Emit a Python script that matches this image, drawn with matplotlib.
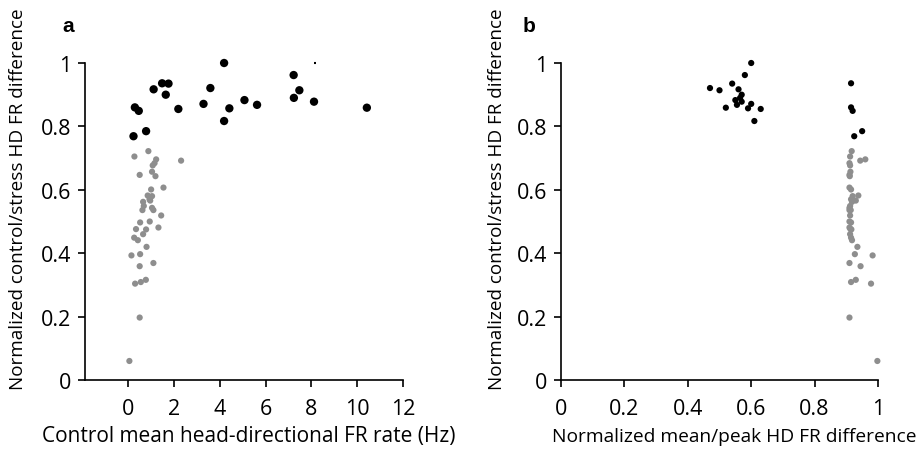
import matplotlib
matplotlib.use("Agg")
import matplotlib.pyplot as plt

plt.rcParams['font.family'] = ['Open Sans', 'DejaVu Sans']

# ---- data ----
# stable (black) cells: panel a x, shared y, panel b x
black_rate = [4.18, 7.22, 7.23, 1.10, 1.47, 1.75, 1.63, 3.58, 0.28, 0.45, 2.18,
              3.28, 4.41, 5.07, 5.62, 4.18, 0.77, 0.22, 7.47, 8.11, 10.42]
black_norm = [1.000, 0.962, 0.890, 0.917, 0.936, 0.935, 0.900, 0.921, 0.860, 0.849, 0.855,
              0.871, 0.857, 0.883, 0.868, 0.817, 0.785, 0.769, 0.914, 0.878, 0.859]
black_peak = [0.60, 0.58, 0.565, 0.56, 0.915, 0.54, 0.57, 0.47, 0.915, 0.92, 0.63,
              0.60, 0.59, 0.55, 0.555, 0.61, 0.95, 0.925, 0.50, 0.57, 0.52]

# unstable (gray) cells
gray_rate = [0.87, 0.26, 1.21, 2.30, 1.14, 1.06, 0.49, 1.03, 1.18, 1.53, 0.99, 0.84, 1.03,
             0.92, 0.95, 0.64, 0.67, 1.03, 0.61, 1.09, 1.43, 0.51, 0.93, 0.33, 0.77, 1.31,
             0.64, 0.25, 0.41, 0.79, 0.13, 0.51, 0.49, 1.09, 0.29, 0.54, 0.76, 0.49, 0.04]
gray_norm = [0.722, 0.705, 0.696, 0.692, 0.684, 0.677, 0.647, 0.657, 0.643, 0.607, 0.601,
             0.582, 0.580, 0.570, 0.566, 0.562, 0.549, 0.543, 0.536, 0.536, 0.519, 0.497,
             0.500, 0.476, 0.475, 0.481, 0.460, 0.449, 0.441, 0.420, 0.393, 0.397, 0.359,
             0.369, 0.304, 0.309, 0.316, 0.197, 0.060]
gray_peak = [0.917, 0.912, 0.960, 0.944, 0.910, 0.912, 0.910, 0.913, 0.911, 0.910, 0.915,
             0.938, 0.920, 0.915, 0.930, 0.918, 0.912, 0.910, 0.914, 0.910, 0.912, 0.915,
             0.910, 0.913, 0.916, 0.910, 0.912, 0.915, 0.918, 0.935, 0.983, 0.927, 0.945,
             0.910, 0.978, 0.915, 0.930, 0.910, 0.998]

stray_x = [8.17]
stray_y = [1.0]

y_ticks = [0, 0.2, 0.4, 0.6, 0.8, 1]
y_ticklabels = ["0", "0.2", "0.4", "0.6", "0.8", "1"]
xa_ticks = [0, 2, 4, 6, 8, 10, 12]
xb_ticks = [0, 0.2, 0.4, 0.6, 0.8, 1]
xb_ticklabels = ["0", "0.2", "0.4", "0.6", "0.8", "1"]

ylabel = "Normalized control/stress HD FR difference"
xa_label = "Control mean head-directional FR rate (Hz)"
xb_label = "Normalized mean/peak HD FR difference"

GRAY = "#8e8e8e"
TICK_FS = 15.5
XLAB_A_FS = 15
XLAB_B_FS = 13.8
YLAB_FS = 13.6

fig = plt.figure(figsize=(9.16, 4.52), dpi=100)
ax_a = fig.add_axes([85/916, 71/452, 318/916, 317/452])
ax_b = fig.add_axes([561/916, 71/452, 317/916, 317/452])

ax_a.scatter(gray_rate, gray_norm, s=20, color=GRAY, edgecolors='none', clip_on=False, zorder=3)
ax_a.scatter(black_rate, black_norm, s=36, color='black', edgecolors='none', clip_on=False, zorder=4)
ax_a.scatter(stray_x, stray_y, s=3, marker='_', color='black', clip_on=False, zorder=4)

ax_b.scatter(gray_peak, gray_norm, s=20, color=GRAY, edgecolors='none', clip_on=False, zorder=3)
ax_b.scatter(black_peak, black_norm, s=20, color='black', edgecolors='none', clip_on=False, zorder=4)

for ax in (ax_a, ax_b):
    ax.set_ylim(0, 1)
    ax.set_yticks(y_ticks)
    ax.set_yticklabels(y_ticklabels)
    ax.spines['top'].set_visible(False)
    ax.spines['right'].set_visible(False)
    ax.spines['left'].set_linewidth(1.2)
    ax.spines['bottom'].set_linewidth(1.2)
    ax.tick_params(direction='out', length=5, width=1.2, labelsize=TICK_FS, pad=5)
    ax.tick_params(axis='x', pad=8)
    ax.set_ylabel(ylabel, fontsize=YLAB_FS)

# y-label positions (axes coords) to match reference placement
ax_a.yaxis.set_label_coords(-67/318, (381 - 199) / 317)
ax_b.yaxis.set_label_coords(-64/317, (381 - 199) / 317)

ax_a.set_xlim(-1.9, 12)
ax_a.set_xticks(xa_ticks)
ax_a.set_xlabel(xa_label, fontsize=XLAB_A_FS)
ax_a.xaxis.set_label_coords((249 - 85) / 318, -(437 - 381) / 317)

ax_b.set_xlim(0, 1)
ax_b.set_xticks(xb_ticks)
ax_b.set_xticklabels(xb_ticklabels)
ax_b.set_xlabel(xb_label, fontsize=XLAB_B_FS)
ax_b.xaxis.set_label_coords((734 - 561) / 317, -(437 - 381) / 317)
for ax in (ax_a, ax_b):
    ax.xaxis.label.set_va('center')
    ax.yaxis.label.set_va('center')

fig.text(62/916, 1 - 26/452, "a", fontsize=15, fontweight='bold', ha='left', va='center',
         family=['Liberation Sans', 'DejaVu Sans'])
fig.text(523/916, 1 - 26/452, "b", fontsize=15, fontweight='bold', ha='left', va='center',
         family=['Liberation Sans', 'DejaVu Sans'])

fig.savefig("out.png", dpi=100)
